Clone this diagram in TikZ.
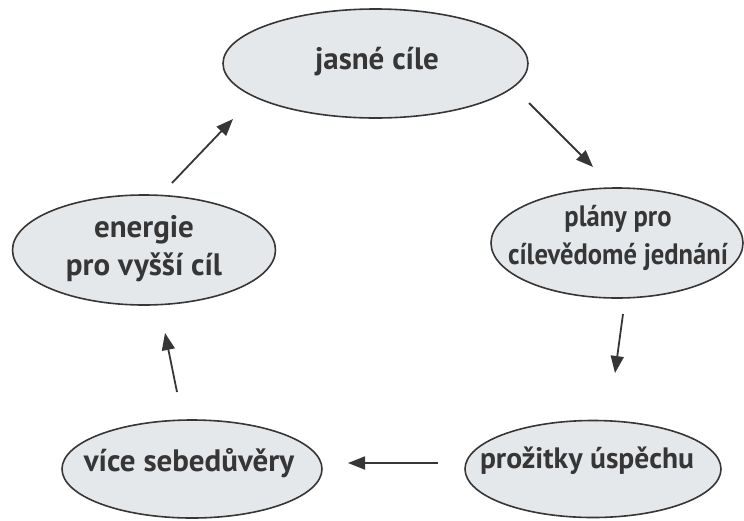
\documentclass[tikz,border=0pt]{standalone}
\usepackage{fontspec}
\usepackage{graphicx}
\setmainfont{PT Sans}
\usetikzlibrary{shapes.geometric,arrows.meta}
\definecolor{bubblefill}{HTML}{E5E8EA}
\definecolor{ink}{HTML}{363636}
\newcommand{\narrowline}[1]{\scalebox{0.9}[1]{#1}}
\begin{document}
\begin{tikzpicture}[x=1pt,y=-1pt,
  bubble/.style={ellipse,draw=ink,line width=1.6pt,fill=bubblefill,inner sep=0pt},
  label text/.style={text=ink,font=\fontsize{31}{38}\selectfont\bfseries,align=center,inner sep=0pt},
  cycle arrow/.style={draw=ink,line width=1.8pt,-{Triangle[length=17pt,width=13pt]}}]
  \useasboundingbox (0,0) rectangle (744,520);

  % the five stages of the cycle
  \node[bubble,minimum width=305pt,minimum height=109pt] (goals) at (375.5,63.5) {};
  \node[label text] at (377,62) {jasné cíle};

  \node[bubble,minimum width=252pt,minimum height=110pt] (plans) at (617,243) {};
  \node[label text,font=\fontsize{29.5}{38}\selectfont\bfseries] at (618,238)
    {\narrowline{plány pro}\\\narrowline{cílevědomé jednání}};

  \node[bubble,minimum width=256pt,minimum height=97pt] (success) at (593,469) {};
  \node[label text,font=\fontsize{29.5}{38}\selectfont\bfseries] at (587,461) {prožitky úspěchu};

  \node[bubble,minimum width=260pt,minimum height=98pt] (confidence) at (192,469) {};
  \node[label text] at (189,463) {více sebedůvěry};

  \node[bubble,minimum width=263pt,minimum height=110pt] (energy) at (144,250) {};
  \node[label text] at (144,249) {energie\\pro vyšší cíl};

  % arrow end points between the stages
  \coordinate (e1) at (172,183);  \coordinate (g1) at (233,119);
  \coordinate (g2) at (529,103);  \coordinate (p2) at (593,167);
  \coordinate (p3) at (623,314);  \coordinate (s3) at (615,373);
  \coordinate (s4) at (438,463);  \coordinate (c4) at (348,463);
  \coordinate (c5) at (177,392);  \coordinate (e5) at (165,333);

  \draw[cycle arrow] (e1) -- (g1);
  \draw[cycle arrow] (g2) -- (p2);
  \draw[cycle arrow] (p3) -- (s3);
  \draw[cycle arrow] (s4) -- (c4);
  \draw[cycle arrow] (c5) -- (e5);
\end{tikzpicture}
\end{document}
